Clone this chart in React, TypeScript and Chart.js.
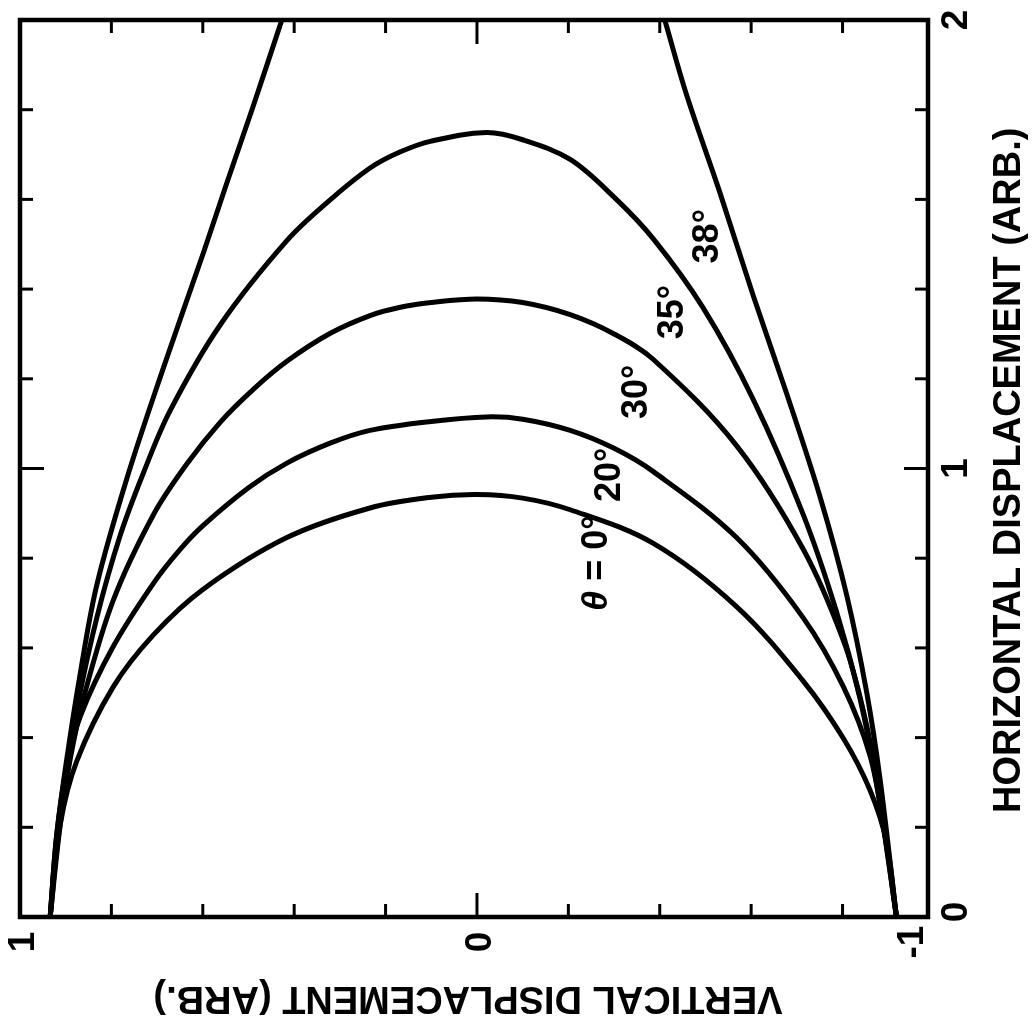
import React, { useEffect, useRef } from "react";
import { Chart, registerables } from "chart.js";

Chart.register(...registerables);

// Vertical displacement (bottom axis, reversed) and horizontal displacement (right axis)
const curve0X = [0.934, 0.912, 0.876, 0.796, 0.708, 0.599, 0.416, 0.234, 0.1, 0.0, -0.1, -0.204, -0.386, -0.568, -0.714, -0.802, -0.86, -0.896, -0.918];
const curve0Y = [0.0, 0.206, 0.347, 0.513, 0.629, 0.731, 0.846, 0.912, 0.936, 0.942, 0.934, 0.908, 0.833, 0.692, 0.526, 0.398, 0.283, 0.168, 0.0];

const curve20X = [0.934, 0.92, 0.898, 0.867, 0.796, 0.708, 0.65, 0.599, 0.5, 0.416, 0.32, 0.234, 0.1, -0.021, -0.1, -0.204, -0.3, -0.386, -0.568, -0.714, -0.802, -0.86, -0.889, -0.918];
const curve20Y = [0.0, 0.18, 0.334, 0.45, 0.603, 0.744, 0.819, 0.873, 0.957, 1.012, 1.057, 1.085, 1.105, 1.115, 1.11, 1.085, 1.045, 0.993, 0.846, 0.667, 0.513, 0.36, 0.206, 0.0];

const curve30X = [0.934, 0.912, 0.891, 0.861, 0.796, 0.708, 0.635, 0.562, 0.49, 0.416, 0.32, 0.234, 0.17, 0.1, 0.0, -0.1, -0.204, -0.3, -0.386, -0.568, -0.714, -0.802, -0.845, -0.882, -0.918];
const curve30Y = [0.0, 0.206, 0.347, 0.488, 0.706, 0.897, 1.01, 1.103, 1.176, 1.239, 1.302, 1.341, 1.359, 1.37, 1.378, 1.37, 1.343, 1.3, 1.243, 1.051, 0.82, 0.616, 0.462, 0.27, 0.0];

const curve35X = [0.934, 0.92, 0.898, 0.876, 0.832, 0.781, 0.73, 0.672, 0.562, 0.416, 0.32, 0.234, 0.17, 0.1, -0.021, -0.1, -0.204, -0.3, -0.386, -0.495, -0.605, -0.714, -0.787, -0.838, -0.875, -0.918];
const curve35Y = [0.0, 0.168, 0.321, 0.462, 0.667, 0.85, 0.99, 1.128, 1.32, 1.508, 1.6, 1.67, 1.705, 1.73, 1.749, 1.733, 1.689, 1.605, 1.512, 1.358, 1.153, 0.897, 0.68, 0.488, 0.296, 0.0];

const curve38LeftX = [0.934, 0.92, 0.898, 0.867, 0.832, 0.767, 0.686, 0.599, 0.548, 0.489, 0.427];
const curve38LeftY = [0.0, 0.18, 0.35, 0.55, 0.74, 0.975, 1.225, 1.48, 1.635, 1.81, 2.0];
const curve38RightX = [-0.411, -0.459, -0.532, -0.605, -0.678, -0.751, -0.809, -0.853, -0.882, -0.918];
const curve38RightY = [2.0, 1.832, 1.614, 1.384, 1.166, 0.936, 0.718, 0.5, 0.308, 0.0];

// Curve labels and their anchor (baseline) in data units
const curveLabels = ["θ = 0°", "20°", "30°", "35°", "38°"];
const curveLabelX = [-0.284, -0.313, -0.372, -0.451, -0.527];
const curveLabelY = [0.789, 0.986, 1.171, 1.349, 1.518];

// Axis ticks
const vertTickValues = [1, 0.8, 0.6, 0.4, 0.2, 0, -0.2, -0.4, -0.6, -0.8];
const vertLabelValues = [1, 0, -1];
const vertLabelTexts = ["1", "0", "-1"];
const horizTickValues = [0, 0.2, 0.4, 0.6, 0.8, 1, 1.2, 1.4, 1.6, 1.8, 2];
const horizLabelValues = [0, 1, 2];
const horizLabelTexts = ["0", "1", "2"];

const vertTitle = "VERTICAL DISPLACEMENT (ARB.)";
const horizTitle = "HORIZONTAL DISPLACEMENT (ARB.)";

const FONT = '"Liberation Sans", Arial, Helvetica, sans-serif';

function toPoints(xs: number[], ys: number[]) {
  return xs.map((x, i) => ({ x, y: ys[i] }));
}

const decorPlugin = {
  id: "decor",
  afterDatasetsDraw(chart: any) {
    const { ctx, chartArea: a, scales } = chart;
    const xs = scales.x;
    const ys = scales.y;
    ctx.save();
    ctx.strokeStyle = "#000";
    ctx.fillStyle = "#000";

    // frame
    ctx.lineWidth = 4.5;
    ctx.lineJoin = "miter";
    ctx.strokeRect(a.left, a.top, a.right - a.left, a.bottom - a.top);

    const seg = (x1: number, y1: number, x2: number, y2: number) => {
      ctx.beginPath();
      ctx.moveTo(x1, y1);
      ctx.lineTo(x2, y2);
      ctx.stroke();
    };

    // inward ticks
    ctx.lineWidth = 3;
    for (const v of vertTickValues) {
      const px = xs.getPixelForValue(v);
      const len = vertLabelValues.includes(v) ? 24 : 13;
      seg(px, a.bottom, px, a.bottom - len);
      seg(px, a.top, px, a.top + len);
    }
    for (const v of horizTickValues) {
      const py = ys.getPixelForValue(v);
      const len = horizLabelValues.includes(v) ? 24 : 13;
      seg(a.right, py, a.right - len, py);
      seg(a.left, py, a.left + len, py);
    }

    // tick labels (rotated -90deg)
    ctx.font = "bold 37px " + FONT;
    ctx.textAlign = "center";
    ctx.textBaseline = "alphabetic";
    vertLabelValues.forEach((v, i) => {
      let px = xs.getPixelForValue(v);
      px = Math.min(Math.max(px, a.left), a.right - 19);
      ctx.save();
      ctx.translate(px + 14, a.bottom + 25);
      ctx.rotate(-Math.PI / 2);
      ctx.fillText(vertLabelTexts[i], 0, 0);
      ctx.restore();
    });
    horizLabelValues.forEach((v, i) => {
      const py = ys.getPixelForValue(v);
      ctx.save();
      ctx.translate(a.right + 39, Math.min(py, a.bottom - 5));
      ctx.rotate(-Math.PI / 2);
      ctx.fillText(horizLabelTexts[i], 0, 0);
      ctx.restore();
    });

    // axis titles
    ctx.font = "bold 38px " + FONT;
    ctx.save();
    ctx.translate((a.left + a.right) / 2 - 6, a.bottom + 70);
    ctx.rotate(Math.PI);
    ctx.textAlign = "center";
    ctx.fillText(vertTitle, 0, 0);
    ctx.restore();

    ctx.save();
    ctx.translate(a.right + 92, a.bottom - 104);
    ctx.rotate(-Math.PI / 2);
    ctx.textAlign = "left";
    ctx.fillText(horizTitle, 0, 0);
    ctx.restore();

    // curve labels (θ drawn in italic)
    const bold = "bold 36px " + FONT;
    const italic = "italic bold 36px " + FONT;
    curveLabels.forEach((t, i) => {
      const px = xs.getPixelForValue(curveLabelX[i]);
      const py = ys.getPixelForValue(curveLabelY[i]);
      ctx.save();
      ctx.translate(px, py);
      ctx.rotate(-Math.PI / 2);
      ctx.textAlign = "left";
      if (t.startsWith("θ")) {
        const rest = t.slice(1);
        ctx.font = italic;
        const w1 = ctx.measureText("θ").width;
        ctx.font = bold;
        const w2 = ctx.measureText(rest).width;
        const start = -(w1 + w2) / 2;
        ctx.font = italic;
        ctx.fillText("θ", start, 0);
        ctx.font = bold;
        ctx.fillText(rest, start + w1, 0);
      } else {
        ctx.font = bold;
        const w = ctx.measureText(t).width;
        ctx.fillText(t, -w / 2, 0);
      }
      ctx.restore();
    });

    ctx.restore();
  },
};

export default function App() {
  const ref = useRef<HTMLCanvasElement | null>(null);
  useEffect(() => {
    if (!ref.current) return;
    const mk = (label: string, xs: number[], ys: number[]) => ({
      label,
      data: toPoints(xs, ys),
      showLine: true,
      borderColor: "#000",
      backgroundColor: "#000",
      borderWidth: 5,
      pointRadius: 0,
      tension: 0.35,
      fill: false,
      borderCapStyle: "round" as const,
      borderJoinStyle: "round" as const,
    });
    const chart = new Chart(ref.current, {
      type: "scatter",
      data: {
        datasets: [
          mk("θ = 0°", curve0X, curve0Y),
          mk("20°", curve20X, curve20Y),
          mk("30°", curve30X, curve30Y),
          mk("35°", curve35X, curve35Y),
          mk("38° (a)", curve38LeftX, curve38LeftY),
          mk("38° (b)", curve38RightX, curve38RightY),
        ],
      },
      options: {
        animation: false,
        responsive: false,
        devicePixelRatio: 1,
        layout: { padding: { left: 20, top: 20, right: 106, bottom: 109 } },
        plugins: { legend: { display: false }, tooltip: { enabled: false } },
        scales: {
          x: { type: "linear", reverse: true, min: -0.987, max: 1, display: false },
          y: { type: "linear", min: 0, max: 2, display: false },
        },
      },
      plugins: [decorPlugin],
    });
    return () => chart.destroy();
  }, []);
  return (
    <div style={{ position: "absolute", left: 0, top: 0, width: 1034, height: 1026, background: "#fff" }}>
      <canvas ref={ref} width={1034} height={1026} />
    </div>
  );
}
